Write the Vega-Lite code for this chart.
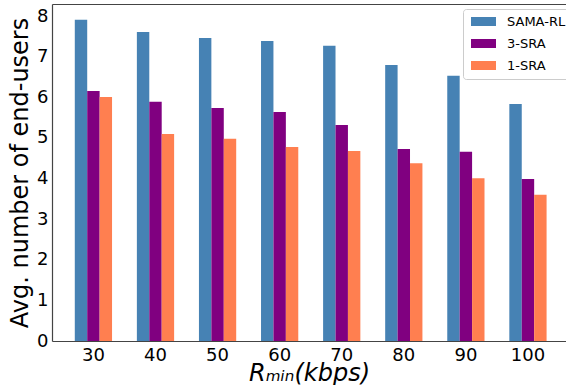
{
  "$schema": "https://vega.github.io/schema/vega-lite/v6.json",
  "autosize": {"type": "none"},
  "padding": {"left": 52, "top": 4, "right": 0, "bottom": 44},
  "width": 514,
  "height": 337,
  "config": {
    "font": "DejaVu Sans",
    "view": {"stroke": null},
    "axis": {"labelColor": "#000", "titleColor": "#000", "domainColor": "#444", "domainWidth": 1.2, "grid": false, "ticks": false, "labelFont": "DejaVu Sans", "titleFont": "DejaVu Sans", "titleFontWeight": "normal"}
  },
  "data": {
    "values": [
      {"r": "30", "method": "SAMA-RL", "v": 7.91},
      {"r": "30", "method": "3-SRA", "v": 6.16},
      {"r": "30", "method": "1-SRA", "v": 6.01},
      {"r": "40", "method": "SAMA-RL", "v": 7.61},
      {"r": "40", "method": "3-SRA", "v": 5.89},
      {"r": "40", "method": "1-SRA", "v": 5.10},
      {"r": "50", "method": "SAMA-RL", "v": 7.46},
      {"r": "50", "method": "3-SRA", "v": 5.74},
      {"r": "50", "method": "1-SRA", "v": 4.98},
      {"r": "60", "method": "SAMA-RL", "v": 7.39},
      {"r": "60", "method": "3-SRA", "v": 5.64},
      {"r": "60", "method": "1-SRA", "v": 4.78},
      {"r": "70", "method": "SAMA-RL", "v": 7.27},
      {"r": "70", "method": "3-SRA", "v": 5.32},
      {"r": "70", "method": "1-SRA", "v": 4.68},
      {"r": "80", "method": "SAMA-RL", "v": 6.80},
      {"r": "80", "method": "3-SRA", "v": 4.73},
      {"r": "80", "method": "1-SRA", "v": 4.38},
      {"r": "90", "method": "SAMA-RL", "v": 6.53},
      {"r": "90", "method": "3-SRA", "v": 4.66},
      {"r": "90", "method": "1-SRA", "v": 4.01},
      {"r": "100", "method": "SAMA-RL", "v": 5.84},
      {"r": "100", "method": "3-SRA", "v": 3.99},
      {"r": "100", "method": "1-SRA", "v": 3.60}
    ]
  },
  "resolve": {"axis": {"x": "independent"}},
  "layer": [
    {
      "mark": {"type": "bar"},
      "encoding": {
        "x": {
          "field": "r", "type": "nominal", "sort": null,
          "scale": {"paddingInner": 0.4, "paddingOuter": 0.34, "align": 0.54},
          "axis": {"labelAngle": 0, "labelFontSize": 18, "labelPadding": 5, "title": "Rₘᵢₙ(kbps)", "titleFontSize": 24, "titleFontStyle": "italic", "titlePadding": -3}
        },
        "xOffset": {"field": "method", "type": "nominal", "sort": ["SAMA-RL", "3-SRA", "1-SRA"], "scale": {"paddingInner": 0, "paddingOuter": 0}},
        "y": {
          "field": "v", "type": "quantitative",
          "scale": {"domain": [0, 8.3], "nice": false, "zero": true},
          "axis": {"values": [0, 1, 2, 3, 4, 5, 6, 7, 8], "labelFontSize": 18, "labelPadding": 4, "title": "Avg. number of end-users", "titleFontSize": 24, "titlePadding": 4}
        },
        "color": {
          "field": "method", "type": "nominal", "sort": ["SAMA-RL", "3-SRA", "1-SRA"],
          "scale": {"domain": ["SAMA-RL", "3-SRA", "1-SRA"], "range": ["#4682B4", "#800080", "#FF7F50"]},
          "legend": {
            "title": null, "orient": "none", "legendX": 411, "legendY": 5,
            "symbolType": "M-1,-1L4.556,-1L4.556,1L-1,1Z", "symbolSize": 81, "symbolStrokeWidth": 0,
            "labelFontSize": 13, "labelFont": "DejaVu Sans", "labelColor": "#000", "labelOffset": 25,
            "rowPadding": 8, "padding": 6, "strokeColor": "#ccc", "fillColor": "#fff", "cornerRadius": 3
          }
        }
      }
    },
    {
      "mark": {"type": "bar", "opacity": 0},
      "encoding": {
        "x": {"field": "r", "type": "nominal", "sort": null, "axis": {"orient": "top", "labels": false, "ticks": false, "title": null, "domain": true}},
        "y": {"datum": 0, "type": "quantitative"}
      }
    }
  ]
}
